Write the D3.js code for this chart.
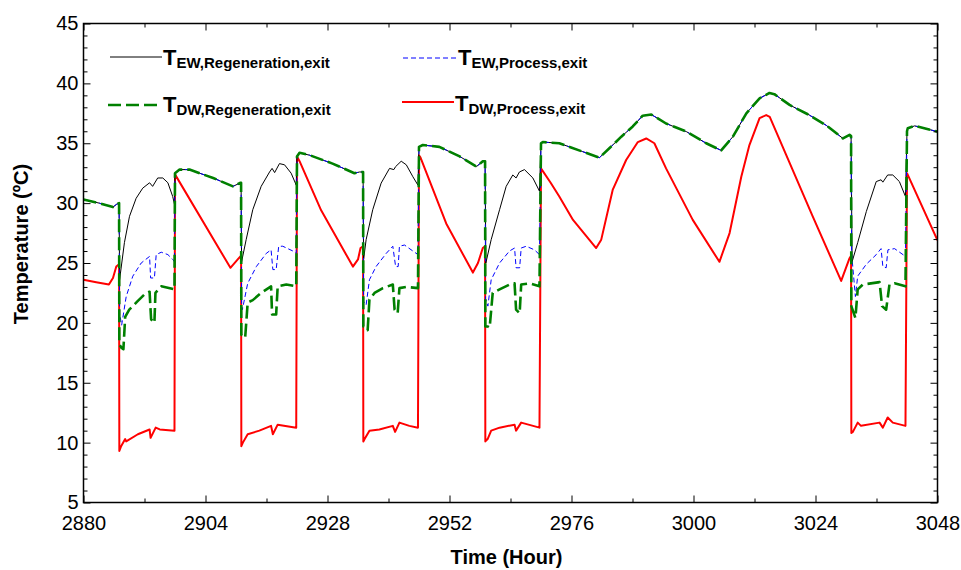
<!DOCTYPE html>
<html>
<head>
<meta charset="utf-8">
<script src="https://cdn.jsdelivr.net/npm/d3@7/dist/d3.min.js"></script>
<style>
  body { margin: 0; background: #fff; }
  text { font-family: "Liberation Sans", Arial, sans-serif; }
</style>
</head>
<body>
<script>
// values, [hour, temperature in C]
var processPeriods = [[2887, 2898], [2911, 2922], [2935, 2946], [2959, 2970], [3031, 3042]];

var dwRegeneration = [
  [2880.0, 30.3], [2883.1, 30.0], [2885.8, 29.67], [2886.5, 29.9], [2887.0, 30.0],
  [2887.05, 18.2], [2887.5, 17.9], [2887.85, 17.8], [2888.2, 20.5], [2889.0, 21.1], [2890.6, 21.8], [2892.3, 22.5], [2893.0, 22.6], [2893.3, 20.3], [2893.95, 20.0], [2894.15, 22.5], [2895.3, 23.05], [2897.9, 22.8],
  [2898.0, 32.5], [2898.9, 32.8], [2900.85, 32.8], [2905.5, 32.1], [2909.4, 31.4], [2910.9, 31.7], [2911.0, 31.7],
  [2911.05, 19.0], [2911.8, 18.75], [2912.3, 21.7], [2913.3, 21.9], [2914.95, 22.5], [2916.9, 23.05], [2917.1, 20.7], [2917.9, 20.7], [2918.2, 23.05], [2919.9, 23.2], [2921.85, 23.05],
  [2922.0, 33.9], [2922.5, 34.2], [2924.5, 34.0], [2929.0, 33.3], [2933.3, 32.5], [2934.3, 32.6], [2935.0, 32.6],
  [2935.05, 19.7], [2935.3, 19.7], [2935.9, 19.4], [2936.25, 21.95], [2937.25, 22.5], [2938.9, 22.9], [2940.85, 23.2], [2941.2, 21.1], [2941.8, 20.8], [2942.15, 22.9], [2943.5, 23.0], [2945.8, 22.9],
  [2946.0, 34.7], [2946.75, 34.85], [2950.0, 34.7], [2954.0, 33.9], [2957.3, 33.05], [2958.55, 33.5], [2959.0, 33.5],
  [2959.05, 19.7], [2959.55, 19.7], [2959.9, 19.6], [2960.5, 22.5], [2961.85, 22.8], [2963.8, 23.2], [2964.8, 23.3], [2965.1, 21.1], [2965.8, 20.8], [2966.1, 23.2], [2967.75, 23.3], [2969.7, 23.05],
  [2970.0, 35.0], [2970.35, 35.1], [2973.6, 35.0], [2978.2, 34.3], [2981.5, 33.8], [2983.5, 34.6], [2985.8, 35.55], [2988.05, 36.4], [2990.0, 37.3], [2991.7, 37.4], [2994.6, 36.65], [2998.6, 35.97], [3002.5, 35.0], [3005.45, 34.4], [3007.75, 35.55], [3010.4, 37.5], [3013.0, 38.75], [3014.95, 39.2], [3015.9, 39.1], [3018.9, 38.2], [3022.8, 37.35], [3026.1, 36.5], [3029.4, 35.4], [3030.7, 35.7], [3031.0, 35.6],
  [3031.05, 21.4], [3031.85, 20.4], [3032.3, 22.8], [3033.3, 23.2], [3036.6, 23.4], [3037.1, 21.4], [3037.9, 21.1], [3038.55, 23.2], [3039.55, 23.3], [3041.7, 23.05],
  [3042.0, 36.0], [3042.15, 36.25], [3043.5, 36.45], [3048.0, 35.97]
];

var dwProcess = [
  [2880.0, 23.6], [2882.5, 23.4], [2885.0, 23.2], [2885.8, 23.75], [2886.45, 24.7], [2887.0, 24.9],
  [2887.05, 9.3], [2887.4, 9.7], [2888.2, 10.3], [2888.4, 10.1], [2890.7, 10.7], [2893.0, 11.1], [2893.2, 10.4], [2894.2, 11.25], [2895.0, 11.1], [2897.9, 11.0],
  [2898.0, 32.4], [2908.9, 24.6], [2910.55, 25.4], [2911.0, 25.6],
  [2911.05, 9.7], [2911.35, 10.0], [2912.3, 10.7], [2914.6, 11.0], [2916.9, 11.4], [2917.25, 10.7], [2918.2, 11.5], [2921.85, 11.25],
  [2922.0, 33.9], [2922.5, 33.5], [2926.75, 29.4], [2933.0, 24.7], [2934.0, 25.3], [2934.5, 26.25], [2935.0, 26.4],
  [2935.05, 10.1], [2935.3, 10.3], [2936.25, 11.0], [2938.2, 11.1], [2940.85, 11.4], [2941.3, 10.9], [2942.15, 11.67], [2944.1, 11.4], [2945.8, 11.25],
  [2946.0, 34.0], [2946.3, 33.8], [2951.35, 28.3], [2956.6, 24.2], [2957.6, 25.0], [2958.55, 26.25], [2959.0, 26.4],
  [2959.05, 10.1], [2959.5, 10.3], [2960.2, 11.0], [2961.85, 11.25], [2964.8, 11.5], [2965.1, 11.0], [2966.1, 11.67], [2969.7, 11.25],
  [2970.0, 32.9], [2971.9, 31.7], [2973.6, 30.55], [2976.3, 28.6], [2980.85, 26.25], [2981.85, 26.95], [2984.1, 31.1], [2986.75, 33.6], [2989.05, 35.1], [2990.7, 35.4], [2992.3, 35.0], [2994.6, 32.9], [2999.85, 28.6], [3005.1, 25.1], [3007.1, 27.5], [3009.4, 32.2], [3011.0, 34.85], [3013.0, 37.1], [3014.3, 37.35], [3015.0, 37.2], [3018.25, 34.0], [3023.45, 28.9], [3029.05, 23.5], [3030.7, 25.4], [3031.0, 25.6],
  [3031.05, 10.8], [3031.35, 10.9], [3032.3, 11.67], [3032.95, 11.4], [3036.6, 11.67], [3037.25, 11.25], [3038.2, 12.1], [3039.2, 11.67], [3041.7, 11.4],
  [3042.0, 32.5], [3048.0, 26.9]
];

// evaporative wheel exits only differ from the green curve while the process runs
var ewRegenerationOn = [
  [2887.1, 23.6], [2888.05, 26.7], [2889.05, 28.9], [2890.35, 30.4], [2891.65, 31.25], [2893.0, 31.7], [2893.6, 31.4], [2894.6, 32.1], [2895.6, 32.1], [2896.6, 31.7], [2897.55, 30.55], [2897.9, 29.9],
  [2911.1, 25.1], [2912.0, 26.95], [2913.3, 29.45], [2914.95, 31.4], [2916.6, 32.6], [2917.1, 32.9], [2917.6, 32.55], [2918.55, 33.3], [2919.55, 33.2], [2920.85, 32.5], [2921.85, 31.5],
  [2935.1, 25.3], [2935.6, 26.95], [2936.9, 29.45], [2938.55, 31.67], [2940.2, 32.9], [2941.05, 32.8], [2941.4, 33.05], [2942.5, 33.5], [2943.5, 33.2], [2944.8, 32.2], [2945.8, 31.5],
  [2959.15, 25.0], [2960.2, 26.95], [2961.85, 29.45], [2963.15, 31.4], [2964.45, 32.35], [2965.1, 32.1], [2965.75, 32.6], [2966.75, 32.8], [2968.4, 32.1], [2969.7, 31.0],
  [3031.2, 25.1], [3032.3, 26.7], [3034.0, 29.3], [3035.95, 31.8], [3036.9, 31.95], [3037.25, 31.75], [3038.2, 32.35], [3039.2, 32.35], [3040.5, 31.8], [3041.7, 30.55]
];

var ewProcessOn = [
  [2887.1, 20.8], [2887.5, 19.8], [2888.4, 22.2], [2889.7, 23.9], [2891.35, 25.0], [2893.0, 25.55], [2893.2, 23.75], [2893.95, 23.75], [2894.3, 25.7], [2895.3, 25.9], [2896.6, 25.7], [2897.55, 25.3], [2897.9, 25.1],
  [2911.1, 21.6], [2911.25, 21.1], [2912.3, 23.3], [2914.0, 24.7], [2915.95, 25.8], [2916.9, 26.1], [2917.25, 24.45], [2917.9, 24.45], [2918.4, 26.4], [2919.2, 26.4], [2921.2, 26.0], [2921.85, 25.8],
  [2935.1, 21.8], [2935.6, 21.5], [2936.25, 23.6], [2937.55, 24.7], [2939.55, 25.8], [2940.85, 26.4], [2941.4, 24.7], [2941.9, 24.7], [2942.15, 26.4], [2943.15, 26.5], [2944.8, 26.0], [2945.8, 25.7],
  [2959.1, 22.0], [2959.55, 21.4], [2960.2, 23.6], [2961.85, 25.0], [2963.8, 26.0], [2964.8, 26.25], [2965.1, 24.6], [2965.8, 24.6], [2966.1, 26.25], [2967.1, 26.4], [2968.7, 26.1], [2969.7, 25.7],
  [3031.1, 25.8], [3031.85, 22.2], [3032.3, 23.9], [3034.0, 24.9], [3035.95, 25.7], [3036.9, 26.2], [3037.25, 24.7], [3037.9, 24.6], [3038.25, 26.1], [3039.55, 26.2], [3041.7, 25.55]
];

var xTicks = [2880, 2904, 2928, 2952, 2976, 3000, 3024, 3048];
var xMinorTicks = [2892, 2916, 2940, 2964, 2988, 3012, 3036];
var yTicks = [5, 10, 15, 20, 25, 30, 35, 40, 45];
var yMinorTicks = d3.range(5, 46).filter(function (v) { return v % 5 != 0; });

var width = 961, height = 570;
var plotLeft = 83.5, plotRight = 937.5, plotTop = 23.5, plotBottom = 502.5;

var svg = d3.select("body").append("svg")
    .attr("width", width)
    .attr("height", height);

var x = d3.scaleLinear().domain([2880, 3048]).range([plotLeft, plotRight]);
var y = d3.scaleLinear().domain([5, 45]).range([plotBottom, plotTop]);

// black and blue follow the green curve outside the process periods
function isOff(h) {
    return !processPeriods.some(function (p) { return h > p[0] && h < p[1]; });
}
function mergeWithRegen(onPoints) {
    return dwRegeneration.filter(function (d) { return isOff(d[0]); })
        .concat(onPoints)
        .sort(function (a, b) { return a[0] - b[0]; });
}
var ewRegeneration = mergeWithRegen(ewRegenerationOn);
var ewProcess = mergeWithRegen(ewProcessOn);

svg.append("defs").append("clipPath").attr("id", "plot")
  .append("rect")
    .attr("x", plotLeft).attr("y", plotTop)
    .attr("width", plotRight - plotLeft).attr("height", plotBottom - plotTop);

var line = d3.line()
    .x(function (d) { return x(d[0]); })
    .y(function (d) { return y(d[1]); });

var series = [
    { data: dwProcess, color: "#ff0000", w: 2, dash: null },
    { data: ewRegeneration, color: "#000000", w: 1, dash: null },
    { data: ewProcess, color: "#0000ff", w: 1, dash: "5,3" },
    { data: dwRegeneration, color: "#008000", w: 2.6, dash: "13,5" }
];

var lines = svg.append("g").attr("clip-path", "url(#plot)");
series.forEach(function (s) {
    lines.append("path")
        .datum(s.data)
        .attr("fill", "none")
        .attr("stroke", s.color)
        .attr("stroke-width", s.w)
        .attr("stroke-dasharray", s.dash)
        .attr("stroke-linejoin", "round")
        .attr("d", line);
});

// axes with inward ticks on all four sides
function drawAxis(axis, tx, ty) {
    var g = svg.append("g")
        .attr("transform", "translate(" + tx + "," + ty + ")")
        .call(axis);
    g.select(".domain").remove();
    g.selectAll("line").attr("stroke", "#000").attr("stroke-width", 1);
    g.selectAll("text")
        .attr("fill", "#000")
        .style("font-family", "'Liberation Sans', Arial, sans-serif")
        .style("font-size", "20px");
    return g;
}

drawAxis(d3.axisBottom(x).tickValues(xTicks).tickSizeInner(-7).tickSizeOuter(0).tickPadding(13).tickFormat(d3.format("d")), 0, plotBottom);
drawAxis(d3.axisBottom(x).tickValues(xMinorTicks).tickSizeInner(-4).tickSizeOuter(0).tickFormat(""), 0, plotBottom);
drawAxis(d3.axisTop(x).tickValues(xTicks).tickSizeInner(-7).tickSizeOuter(0).tickFormat(""), 0, plotTop);
drawAxis(d3.axisTop(x).tickValues(xMinorTicks).tickSizeInner(-4).tickSizeOuter(0).tickFormat(""), 0, plotTop);

drawAxis(d3.axisLeft(y).tickValues(yTicks).tickSizeInner(-7).tickSizeOuter(0).tickPadding(5), plotLeft, 0);
drawAxis(d3.axisLeft(y).tickValues(yMinorTicks).tickSizeInner(-4).tickSizeOuter(0).tickFormat(""), plotLeft, 0);
drawAxis(d3.axisRight(y).tickValues(yTicks).tickSizeInner(-7).tickSizeOuter(0).tickFormat(""), plotRight, 0);
drawAxis(d3.axisRight(y).tickValues(yMinorTicks).tickSizeInner(-4).tickSizeOuter(0).tickFormat(""), plotRight, 0);

svg.append("rect")
    .attr("x", plotLeft).attr("y", plotTop)
    .attr("width", plotRight - plotLeft).attr("height", plotBottom - plotTop)
    .attr("fill", "none")
    .attr("stroke", "#000")
    .attr("stroke-width", 1.5);

// axis titles
svg.append("text")
    .attr("x", (plotLeft + plotRight) / 2 - 4)
    .attr("y", 564)
    .attr("text-anchor", "middle")
    .style("font-size", "20px")
    .style("font-weight", "bold")
    .text("Time (Hour)");

svg.append("text")
    .attr("transform", "translate(28," + 244 + ") rotate(-90)")
    .attr("text-anchor", "middle")
    .style("font-size", "20px")
    .style("font-weight", "bold")
    .text("Temperature (ºC)");

// legend
var legend = [
    { sub: "EW,Regeneration,exit", color: "#000000", w: 1, dash: null, x1: 110, x2: 162, ly: 57, tx: 163, ty: 65 },
    { sub: "DW,Regeneration,exit", color: "#008000", w: 2.6, dash: "13,5", x1: 108, x2: 162, ly: 105, tx: 163, ty: 112 },
    { sub: "EW,Process,exit", color: "#0000ff", w: 1, dash: "5,3", x1: 403, x2: 456, ly: 58, tx: 458, ty: 65 },
    { sub: "DW,Process,exit", color: "#ff0000", w: 2, dash: null, x1: 402, x2: 454, ly: 102, tx: 455, ty: 111 }
];

legend.forEach(function (d) {
    svg.append("line")
        .attr("x1", d.x1).attr("x2", d.x2)
        .attr("y1", d.ly).attr("y2", d.ly)
        .attr("stroke", d.color)
        .attr("stroke-width", d.w)
        .attr("stroke-dasharray", d.dash);
    var t = svg.append("text")
        .attr("x", d.tx).attr("y", d.ty)
        .style("font-weight", "bold")
        .style("font-size", "22px");
    t.append("tspan").text("T");
    t.append("tspan")
        .attr("dy", 2.5)
        .style("font-size", "15px")
        .text(d.sub);
});
</script>
</body>
</html>
